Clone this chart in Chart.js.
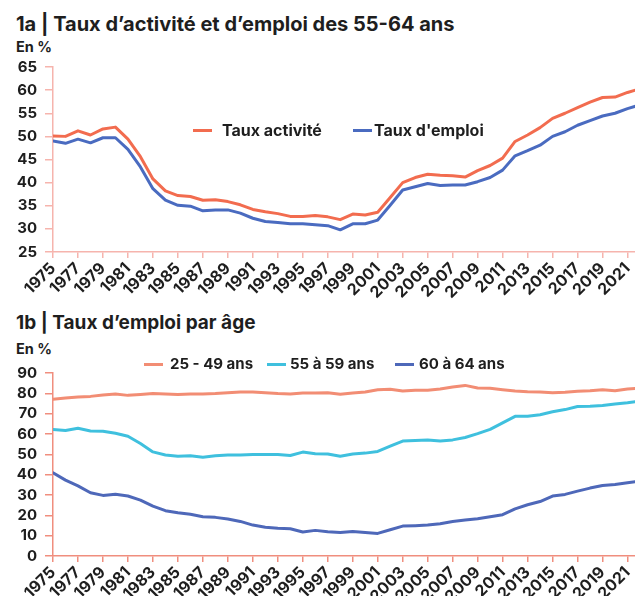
<!DOCTYPE html>
<html lang="fr">
<head>
<meta charset="utf-8">
<title>Taux d'activité et d'emploi des 55-64 ans</title>
<script src="https://cdn.jsdelivr.net/npm/chart.js@4/dist/chart.umd.min.js"></script>
<style>
  html, body { margin: 0; padding: 0; background: #fff; }
  body { width: 635px; height: 596px; position: relative; overflow: hidden;
         font-family: Inter, "Noto Sans", sans-serif; color: #1e1e1e; }
  .titre { position: absolute; left: 16px; font-weight: 700; white-space: nowrap; }
  .unite { position: absolute; left: 16px; font-weight: 700; font-size: 14.5px; }
  .chart { position: absolute; left: 0; width: 635px; height: 250px; }
  .leg { position: absolute; font-weight: 700; white-space: nowrap; }
  .leg i { position: absolute; height: 3px; }
  .leg span { position: absolute; top: -10px; }
</style>
</head>
<body>
<div class="titre" style="top:12px;font-size:20px">1a | Taux d’activité et d’emploi des 55-64 ans</div>
<div class="unite" style="top:38px">En %</div>
<div class="chart" style="top:55px"><canvas id="chart1a"></canvas></div>

<div class="titre" style="top:311px;font-size:19px">1b | Taux d’emploi par âge</div>
<div class="unite" style="top:340px">En %</div>
<div class="chart" style="top:360px"><canvas id="chart1b"></canvas></div>

<div id="legendes"></div>

<script>
// ── Données ─────────────────────────────────────────────
const annees = [
  1975, 1976, 1977, 1978, 1979, 1980, 1981, 1982, 1983, 1984,
  1985, 1986, 1987, 1988, 1989, 1990, 1991, 1992, 1993, 1994,
  1995, 1996, 1997, 1998, 1999, 2000, 2001, 2002, 2003, 2004,
  2005, 2006, 2007, 2008, 2009, 2010, 2011, 2012, 2013, 2014,
  2015, 2016, 2017, 2018, 2019, 2020, 2021, 2022
];
const anneesTicks = [
  1975, 1977, 1979, 1981, 1983, 1985, 1987, 1989, 1991, 1993, 1995, 1997,
  1999, 2001, 2003, 2005, 2007, 2009, 2011, 2013, 2015, 2017, 2019, 2021
];

// 1a
const tauxActivite = [
  50.1, 50.0, 51.2, 50.3, 51.6, 52.0, 49.4, 45.6, 40.8, 38.2,
  37.2, 37.0, 36.2, 36.3, 35.9, 35.2, 34.2, 33.7, 33.3, 32.7,
  32.7, 32.9, 32.6, 32.0, 33.2, 33.0, 33.6, 36.8, 40.0, 41.1,
  41.8, 41.6, 41.5, 41.2, 42.6, 43.7, 45.3, 48.9, 50.3, 51.9,
  53.9, 55.0, 56.2, 57.4, 58.4, 58.5, 59.5, 60.3
];
const tauxEmploi = [
  49.0, 48.5, 49.4, 48.6, 49.7, 49.7, 47.2, 43.4, 38.7, 36.2,
  35.1, 34.9, 33.9, 34.1, 34.1, 33.4, 32.3, 31.6, 31.4, 31.1,
  31.1, 30.9, 30.7, 29.8, 31.1, 31.1, 31.9, 35.1, 38.4, 39.1,
  39.8, 39.4, 39.5, 39.5, 40.2, 41.1, 42.7, 45.8, 46.9, 48.1,
  50.0, 51.0, 52.4, 53.4, 54.4, 55.0, 56.0, 56.8
];

// 1b
const emploi2549 = [
  77.1, 77.7, 78.2, 78.5, 79.2, 79.7, 79.0, 79.4, 79.9, 79.7,
  79.4, 79.7, 79.7, 79.9, 80.3, 80.7, 80.7, 80.3, 79.9, 79.7,
  80.2, 80.2, 80.3, 79.5, 80.2, 80.7, 81.8, 82.0, 81.2, 81.5,
  81.5, 82.1, 83.1, 83.9, 82.6, 82.5, 81.8, 81.2, 80.8, 80.7,
  80.3, 80.5, 81.0, 81.3, 81.8, 81.3, 82.1, 82.5
];
const emploi5559 = [
  62.2, 61.7, 62.8, 61.5, 61.4, 60.4, 58.9, 55.3, 51.2, 49.7,
  49.1, 49.3, 48.6, 49.3, 49.7, 49.7, 49.9, 49.9, 49.9, 49.4,
  51.1, 50.3, 50.2, 49.1, 50.2, 50.6, 51.4, 54.0, 56.5, 56.8,
  57.1, 56.5, 57.1, 58.3, 60.2, 62.3, 65.5, 68.7, 68.7, 69.5,
  70.9, 72.0, 73.5, 73.6, 74.0, 74.8, 75.4, 76.2
];
const emploi6064 = [
  40.9, 37.3, 34.5, 31.1, 29.8, 30.4, 29.5, 27.5, 24.5, 22.3,
  21.3, 20.5, 19.3, 19.0, 18.2, 17.0, 15.2, 14.1, 13.6, 13.4,
  11.8, 12.6, 11.9, 11.6, 12.1, 11.6, 11.1, 12.9, 14.7, 14.9,
  15.2, 15.9, 17.0, 17.7, 18.3, 19.3, 20.3, 23.2, 25.2, 26.8,
  29.5, 30.3, 31.9, 33.4, 34.7, 35.2, 36.0, 36.8
];

// ── Styles ──────────────────────────────────────────────
const FONT = 'Inter, "Noto Sans", sans-serif';
const TEXTE = '#1e1e1e';

function serie(label, data, couleur) {
  return {
    label, data,
    borderColor: couleur, backgroundColor: couleur,
    borderWidth: 3, pointRadius: 0, tension: 0,
    borderJoinStyle: 'round', borderCapStyle: 'round'
  };
}

function options(yMin, yMax, pas, couleurAxe, hauteurX, haut) {
  return {
    responsive: true, maintainAspectRatio: false,
    animation: false, devicePixelRatio: 1,
    layout: { padding: { top: haut, left: 0, right: 0, bottom: 0 } },
    plugins: { legend: { display: false }, tooltip: { enabled: false } },
    scales: {
      x: {
        type: 'linear', min: 1975, max: 2021.6,
        afterBuildTicks: s => { s.ticks = anneesTicks.map(v => ({ value: v })); },
        afterFit: s => { s.height = hauteurX; s.paddingRight = 0; s.paddingLeft = 0; },
        grid: { drawOnChartArea: false, color: couleurAxe, tickColor: couleurAxe, tickLength: 6, lineWidth: 1.5 },
        border: { color: couleurAxe, width: 1.5 },
        ticks: {
          autoSkip: false, minRotation: 45, maxRotation: 45, padding: 1,
          color: TEXTE, font: { family: FONT, size: 16, weight: 'bold' },
          callback: v => String(v)
        }
      },
      y: {
        min: yMin, max: yMax,
        afterFit: s => { s.width = 53; s.paddingTop = 0; s.paddingBottom = 0; },
        grid: { drawOnChartArea: false, color: couleurAxe, tickColor: couleurAxe, tickLength: 8, lineWidth: 1.5 },
        border: { color: couleurAxe, width: 1.5 },
        ticks: {
          stepSize: pas, padding: 8, autoSkip: false,
          color: TEXTE, font: { family: FONT, size: 15, weight: 'bold' }
        }
      }
    }
  };
}

// ── Graphiques ──────────────────────────────────────────
new Chart(document.getElementById('chart1a'), {
  type: 'line',
  data: {
    labels: annees,
    datasets: [
      serie('Taux activité', tauxActivite, '#f26c4f'),
      serie("Taux d'emploi", tauxEmploi, '#4a6bc0')
    ]
  },
  options: options(25, 65, 5, '#f6b4ad', 53, 12)
});

new Chart(document.getElementById('chart1b'), {
  type: 'line',
  data: {
    labels: annees,
    datasets: [
      serie('25 - 49 ans', emploi2549, '#f28d74'),
      serie('55 à 59 ans', emploi5559, '#3fc0de'),
      serie('60 à 64 ans', emploi6064, '#4e68b9')
    ]
  },
  options: options(0, 90, 10, '#f08e7e', 54, 13)
});

// ── Légendes (texte positionné comme dans l'original) ───
const legendes = [
  { texte: 'Taux activité', couleur: '#f26c4f', x: 193, l: 19, tx: 222, y: 130, t: 16 },
  { texte: "Taux d'emploi", couleur: '#4a6bc0', x: 353, l: 19, tx: 374, y: 130, t: 16 },
  { texte: '25 - 49 ans', couleur: '#f28d74', x: 144, l: 19, tx: 170, y: 364, t: 15 },
  { texte: '55 à 59 ans', couleur: '#3fc0de', x: 267, l: 19, tx: 290, y: 364, t: 15 },
  { texte: '60 à 64 ans', couleur: '#4e68b9', x: 395, l: 19, tx: 419, y: 364, t: 15 }
];
const zone = document.getElementById('legendes');
legendes.forEach(g => {
  const d = document.createElement('div');
  d.className = 'leg';
  d.style.left = '0px';
  d.style.top = g.y + 'px';
  d.style.fontSize = g.t + 'px';
  d.innerHTML = `<i style="left:${g.x}px;width:${g.l}px;top:-1px;background:${g.couleur}"></i>` +
                `<span style="left:${g.tx}px">${g.texte}</span>`;
  zone.appendChild(d);
});
</script>
</body>
</html>
